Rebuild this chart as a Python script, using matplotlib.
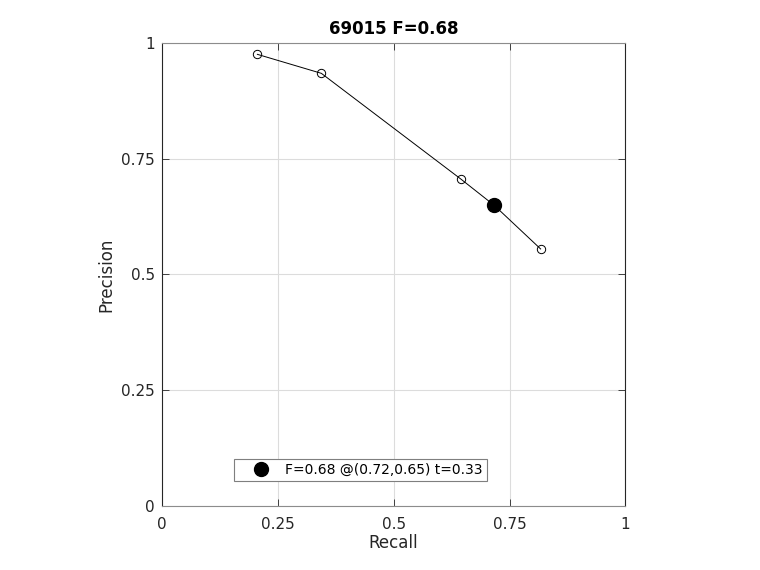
import matplotlib
matplotlib.use("Agg")
from matplotlib import pyplot as plt

# precision / recall curve
recall = [0.206, 0.344, 0.646, 0.817]
precision = [0.975, 0.934, 0.705, 0.555]

# best F point
best_r = 0.717
best_p = 0.649
best_label = 'F=0.68 @(0.72,0.65) t=0.33'
title = '69015 F=0.68'

ticks = [0, 0.25, 0.5, 0.75, 1]
tick_labels = ['0', '0.25', '0.5', '0.75', '1']

plt.rcParams['font.family'] = ['DejaVu Sans']

fig = plt.figure(figsize=(7.6, 5.7), dpi=100)
ax = fig.add_axes([0.213, 0.112, 0.610, 0.813])

ax.plot(recall[:3] + [best_r] + recall[3:], precision[:3] + [best_p] + precision[3:],
        '-', color='black', linewidth=0.7)
ax.plot(recall, precision, 'o', color='black', markerfacecolor='none',
        markersize=6, markeredgewidth=0.7)
ax.plot(best_r, best_p, 'o', color='black', markersize=10, label=best_label)

ax.set_xlim(0, 1)
ax.set_ylim(0, 1)
ax.set_xticks(ticks)
ax.set_xticklabels(tick_labels)
ax.set_yticks(ticks)
ax.set_yticklabels(tick_labels)
ax.grid(True, color='#dcdcdc', linewidth=0.8)
ax.set_axisbelow(True)

ax.tick_params(direction='in', length=5, width=0.6, top=True, right=True,
               labelsize=11, colors='#262626')
ax.tick_params(axis='x', pad=7.5)
ax.tick_params(axis='y', pad=5)
ax.spines['left'].set_color('#262626')
ax.spines['right'].set_color('#262626')
ax.spines['top'].set_color('#8c8c8c')
ax.spines['bottom'].set_color('#8c8c8c')
for s in ax.spines.values():
    s.set_linewidth(0.8)

ax.set_xlabel('Recall', fontsize=12, color='#262626', labelpad=1.5)
ax.set_ylabel('Precision', fontsize=12, color='#262626', labelpad=4)
ax.set_title(title, fontsize=12, fontweight='bold', pad=6)

leg = ax.legend(loc='lower left', bbox_to_anchor=(0.155, 0.054), fontsize=10,
                fancybox=False, framealpha=1, edgecolor='#7f7f7f',
                borderpad=0.3, handletextpad=0.1, borderaxespad=0,
                handlelength=3.3)
leg.get_frame().set_linewidth(0.8)

fig.savefig('out.png', dpi=100)
